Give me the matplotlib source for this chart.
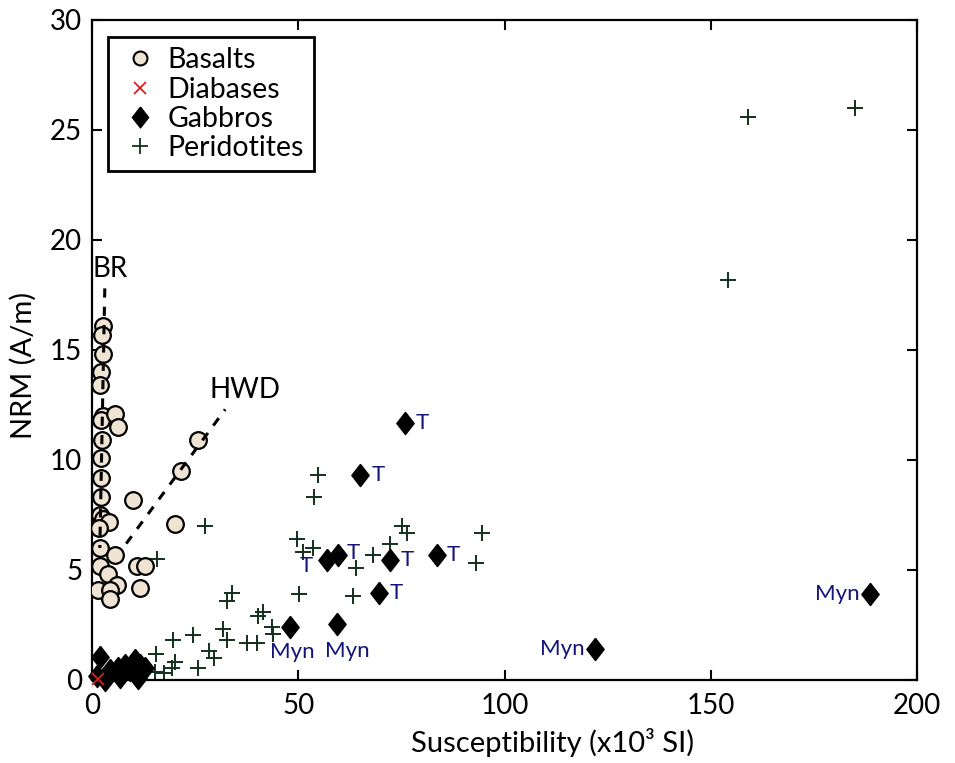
import matplotlib
matplotlib.use("Agg")
import matplotlib.pyplot as plt
from matplotlib.lines import Line2D

plt.rcParams.update({"font.family": ["Lato", "DejaVu Sans"], "font.size": 18})

# basalts (NRM vs susceptibility)
bas_x = [2.7, 2.4, 2.7, 2.2, 1.9, 2.7, 2.2, 5.6, 6.3, 2.4, 2.2, 2.2, 2.2, 1.9, 2.7,
         4.1, 1.7, 9.9, 1.9, 5.6, 1.9, 3.9, 6.1, 1.5, 4.4, 4.4, 10.9, 12.8, 11.6,
         20.1, 21.6, 25.8]
bas_y = [16.1, 15.7, 14.8, 14.0, 13.4, 12.0, 11.8, 12.1, 11.5, 10.9, 10.1, 9.2, 8.3,
         7.5, 7.3, 7.2, 6.9, 8.2, 6.0, 5.7, 5.2, 4.8, 4.3, 4.1, 4.1, 3.7, 5.2, 5.2, 4.2,
         7.1, 9.5, 10.9]

dia_x = [1.5]
dia_y = [0.05]

gab_x = [75.9, 65.0, 57.0, 59.6, 72.2, 83.6, 69.6, 48.0, 59.4, 121.9, 188.6,
         1.9, 1.2, 3.2, 4.4, 6.3, 6.8, 8.0, 9.2, 10.4, 11.2, 11.6, 12.8]
gab_y = [11.7, 9.3, 5.45, 5.7, 5.45, 5.7, 3.95, 2.4, 2.55, 1.4, 3.9,
         1.05, 0.2, 0.0, 0.45, 0.55, 0.15, 0.7, 0.45, 0.9, 0.1, 0.7, 0.55]
gab_lab = ["T", "T", "T", "T", "T", "T", "T", "Myn", "Myn", "Myn", "Myn"]

per_x = [15.8, 27.4, 15.5, 20.1, 15.3, 17.5, 19.4, 19.6, 24.5, 25.6, 28.3, 29.5,
         31.8, 32.7, 32.7, 33.9, 37.6, 40.0, 40.2, 41.5, 43.7, 43.9,
         49.7, 51.2, 53.6, 50.2, 53.8, 54.8, 63.3, 64.0, 68.1, 72.2, 75.2, 76.4,
         93.1, 94.5, 154.2, 159.0, 185.0]
per_y = [5.5, 7.0, 1.2, 0.8, 0.35, 0.3, 0.55, 1.8, 2.05, 0.55, 1.3, 1.0,
         2.3, 1.8, 3.6, 3.95, 1.7, 1.7, 2.9, 3.1, 2.4, 2.1,
         6.4, 5.8, 6.0, 3.9, 8.3, 9.3, 3.8, 5.1, 5.7, 6.2, 7.0, 6.7,
         5.3, 6.7, 18.2, 25.6, 26.0]

# trend lines for the two basalt groups
br_x, br_y = [3.1, 1.9], [17.8, 6.0]
hwd_x, hwd_y = [8.3, 32.3], [6.2, 12.3]

BEIGE = "#efe3d3"
PER = "#12301e"
NAVY = "#14147a"
DIAMOND = [(0, 1), (0.78, 0), (0, -1), (-0.78, 0), (0, 1)]

fig = plt.figure(figsize=(9.55, 7.63), dpi=100)
ax = fig.add_axes([92 / 955, 1 - 680 / 763, 825 / 955, 660 / 763])

ax.plot(br_x, br_y, "--", color="k", lw=2.2, dashes=(3, 3), zorder=4)
ax.plot(hwd_x, hwd_y, "--", color="k", lw=2.2, dashes=(3, 3), zorder=4)

ax.plot(per_x, per_y, "+", color=PER, ms=12, mew=1.4, ls="none", zorder=2)
ax.plot(bas_x, bas_y, "o", mfc=BEIGE, mec="k", ms=12, mew=1.6, ls="none", zorder=3)
ax.plot(gab_x, gab_y, marker=DIAMOND, color="k", ms=16, ls="none", zorder=3,
        clip_on=False)
ax.plot(dia_x, dia_y, "x", color="#d81e1e", ms=9, mew=1.3, ls="none", zorder=5,
        clip_on=False)

# rock-type annotations beside the gabbros (offsets in pixels)
offs = [(11, 0, "left"), (11, 0, "left"), (-14, -6, "right"), (9, 2, "left"),
        (11, 0, "left"), (10, 0, "left"), (11, 0, "left"),
        (2, -25, "center"), (10, -27, "center"), (-10, 0, "right"), (-10, 0, "right")]
for x, y, lab, (dx, dy, ha) in zip(gab_x, gab_y, gab_lab, offs):
    ax.annotate(lab, (x, y), xytext=(dx * 0.72, dy * 0.72), textcoords="offset points",
                ha=ha, va="center", color=NAVY, fontsize=16, zorder=6)

ax.text(4.4, 18.7, "BR", fontsize=20, ha="center", va="center")
ax.text(37.2, 13.2, "HWD", fontsize=20, ha="center", va="center")

ax.set_xlim(0, 200)
ax.set_ylim(0, 30)
ax.set_xticks(range(0, 201, 50))
ax.set_yticks(range(0, 31, 5))
ax.tick_params(direction="in", length=7, width=1.5, top=True, right=True,
               labelsize=20, pad=7)
ax.tick_params(axis="x", pad=9)
for s in ax.spines.values():
    s.set_linewidth(1.6)
ax.set_xlabel("Susceptibility (x10³ SI)", fontsize=21)
ax.set_ylabel("NRM (A/m)", fontsize=21)
ax.xaxis.set_label_coords(0.558, -0.072)
ax.yaxis.set_label_coords(-0.067, 0.477)

handles = [
    Line2D([], [], marker="o", mfc=BEIGE, mec="k", ms=10, mew=1.5, ls="none"),
    Line2D([], [], marker="x", color="#d81e1e", ms=9, mew=1.3, ls="none"),
    Line2D([], [], marker=DIAMOND, color="k", ms=15, ls="none"),
    Line2D([], [], marker="+", color=PER, ms=12, mew=1.3, ls="none"),
]
leg = ax.legend(handles, ["Basalts", "Diabases", "Gabbros", "Peridotites"],
                loc="upper left", bbox_to_anchor=(0.019, 0.974), borderaxespad=0,
                fontsize=20.5, fancybox=False, framealpha=1, edgecolor="k",
                handlelength=1.6, handletextpad=0.15, labelspacing=0.12,
                borderpad=0.35)
leg.get_frame().set_linewidth(2)

fig.savefig("out.png", dpi=100, facecolor="white")
